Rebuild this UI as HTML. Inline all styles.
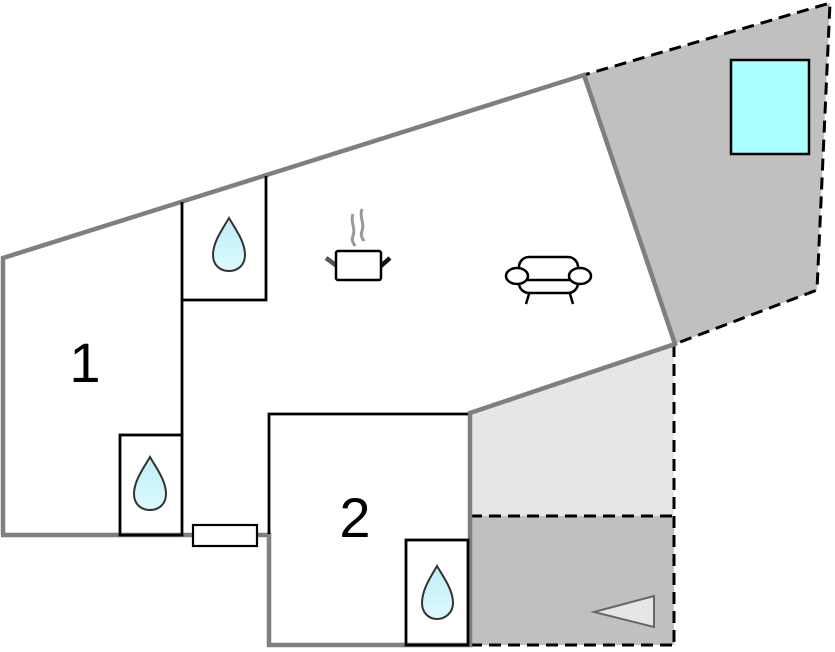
<!DOCTYPE html>
<html><head><meta charset="utf-8"><style>
html,body{margin:0;padding:0;background:#fff;}
svg{display:block;}
</style></head><body>
<svg width="835" height="652" viewBox="0 0 835 652" xmlns="http://www.w3.org/2000/svg">
<defs>
<linearGradient id="dg" x1="0" y1="0" x2="0" y2="1">
<stop offset="0" stop-color="#bfeef7"/><stop offset="1" stop-color="#dcfaff"/>
</linearGradient>
</defs>
<rect width="835" height="652" fill="#fff"/>
<!-- balcony -->
<polygon points="584,75 830,3 817,290 675,344" fill="#c0c0c0"/>
<polyline points="560,82 584,75 830,3 817,290 675,344" fill="none" stroke="#000" stroke-width="3" stroke-dasharray="12,7"/>
<rect x="731" y="60" width="78" height="94" fill="#aaffff" stroke="#000" stroke-width="2.5"/>
<!-- lower terraces -->
<polygon points="470,413 674,345 674,516 470,516" fill="#e6e6e6"/>
<rect x="470" y="516" width="204" height="129" fill="#c0c0c0"/>
<line x1="674" y1="345" x2="674" y2="645" stroke="#000" stroke-width="3" stroke-dasharray="12,7"/>
<line x1="470" y1="516" x2="674" y2="516" stroke="#000" stroke-width="3" stroke-dasharray="12,7"/>
<line x1="470" y1="645" x2="674" y2="645" stroke="#000" stroke-width="3" stroke-dasharray="12,7"/>
<polygon points="594,612 654,596 654,627" fill="#e6e6e6" stroke="#666" stroke-width="2"/>
<!-- outer gray walls -->
<g stroke="#7f7f7f" stroke-width="4.5" fill="none" stroke-linejoin="miter">
<polyline points="3,535 3,258 584,75 675,344 470,413 470,645 269,645 269,535 257,535"/>
<line x1="1" y1="535" x2="193" y2="535"/>
</g>
<!-- black interior lines -->
<g stroke="#000" stroke-width="2.8" fill="none">
<line x1="182" y1="202" x2="182" y2="435"/>
<polyline points="182,300 266,300 266,176"/>
<rect x="120" y="435" width="62" height="100"/>
<polyline points="269,534 269,414 468,414"/>
<rect x="406" y="540" width="62" height="105"/>
<rect x="193" y="525" width="64" height="21" fill="#fff" stroke-width="2.2"/>
</g>
<!-- drops -->
<g fill="url(#dg)" stroke="#333" stroke-width="2">
<path d="M229,218 C222,230 213,242 213,255 C213,265 220,271 229,271 C238,271 245,265 245,255 C245,242 236,230 229,218 Z"/>
<path d="M150,457 C143,469 134,481 134,494 C134,504 141,510 150,510 C159,510 166,504 166,494 C166,481 157,469 150,457 Z"/>
<path d="M437,566 C430,578 422,590 422,603 C422,613 429,619 437,619 C445,619 453,613 453,603 C453,590 444,578 437,566 Z"/>
</g>
<!-- pot -->
<g>
<path d="M353,214 C350,222 356,228 353,236 C351,241 354,244 355,246" fill="none" stroke="#999" stroke-width="3"/>
<path d="M362,209 C359,217 365,223 362,231 C360,236 363,239 364,241" fill="none" stroke="#999" stroke-width="3"/>
<line x1="326" y1="258" x2="337" y2="266" stroke="#555" stroke-width="4.5"/>
<line x1="381" y1="266" x2="390" y2="258" stroke="#111" stroke-width="4.5"/>
<rect x="336" y="251" width="45" height="29" rx="2" fill="#fff" stroke="#000" stroke-width="2.5"/>
</g>
<!-- sofa -->
<g fill="#fff" stroke="#000" stroke-width="2.5">
<rect x="519" y="257" width="59" height="36" rx="10"/>
<line x1="526" y1="280" x2="571" y2="280"/>
<ellipse cx="517" cy="276" rx="11" ry="8"/>
<ellipse cx="580" cy="276" rx="11" ry="8"/>
<line x1="529" y1="294" x2="526" y2="304"/>
<line x1="570" y1="294" x2="573" y2="304"/>
</g>
<!-- labels -->
<text x="85" y="382" font-family="Liberation Sans, Arial, sans-serif" font-size="56" text-anchor="middle" fill="#000">1</text>
<text x="355" y="537" font-family="Liberation Sans, Arial, sans-serif" font-size="56" text-anchor="middle" fill="#000">2</text>
</svg>
</body></html>
